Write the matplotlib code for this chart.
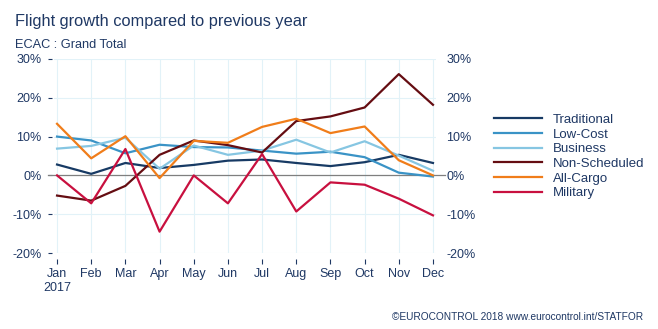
import numpy as np
import matplotlib.pyplot as plt

plt.rcParams['font.family'] = ['Liberation Sans', 'DejaVu Sans']

months = ['Jan', 'Feb', 'Mar', 'Apr', 'May', 'Jun', 'Jul', 'Aug', 'Sep', 'Oct', 'Nov', 'Dec']

traditional = [2.8, 0.4, 3.2, 1.9, 2.7, 3.8, 4.1, 3.2, 2.4, 3.4, 5.3, 3.2]
low_cost = [10.0, 9.0, 5.7, 7.9, 7.3, 7.2, 6.4, 5.6, 6.1, 4.7, 0.7, -0.3]
business = [6.9, 7.6, 9.7, 1.7, 7.7, 5.3, 6.4, 9.2, 5.9, 8.8, 5.1, 1.2]
non_scheduled = [-5.2, -6.5, -2.7, 5.3, 9.0, 7.8, 5.9, 14.0, 15.2, 17.5, 26.1, 18.2]
all_cargo = [13.3, 4.4, 10.1, -0.7, 8.9, 8.4, 12.5, 14.6, 10.9, 12.6, 3.9, 0.0]
military = [0.0, -7.2, 6.8, -14.5, 0.0, -7.2, 5.5, -9.3, -1.8, -2.4, -6.0, -10.3]

series = [
    ('Traditional', traditional, '#173a64'),
    ('Low-Cost', low_cost, '#3a93c6'),
    ('Business', business, '#86c6e2'),
    ('Non-Scheduled', non_scheduled, '#650d12'),
    ('All-Cargo', all_cargo, '#f07d1a'),
    ('Military', military, '#c8103f'),
]

navy = '#1f3864'

fig = plt.figure(figsize=(6.58, 3.29), dpi=100)
ax = fig.add_axes([0.0815, 0.231, 0.5817, 0.5897])

x = np.arange(len(months))
for name, vals, col in series:
    ax.plot(x, vals, color=col, lw=1.6, label=name, clip_on=False, zorder=3)

# zero line runs a little past the plot on both sides
ax.axhline(0, xmin=-0.015, xmax=1.022, color='#7f7f7f', lw=0.9, zorder=2, clip_on=False)

ax.set_xlim(-0.1, 11.1)
ax.set_ylim(-20, 30)
ax.set_yticks([-20, -10, 0, 10, 20, 30])
ax.set_yticklabels(['-20%', '-10%', '0%', '10%', '20%', '30%'])
ax.set_xticks(x)
ax.set_xticklabels(['Jan\n2017'] + months[1:], linespacing=1.05)
for lab in ax.get_xticklabels():
    lab.set_verticalalignment('top')

ax.grid(True, color='#e2f2f8', lw=0.8, zorder=0)
for s in ax.spines.values():
    s.set_visible(False)
ax.spines['left'].set_position(('outward', 1.5))
ax.spines['bottom'].set_position(('outward', 4.5))

ax.tick_params(axis='both', colors=navy, labelsize=9, width=0.8)
ax.tick_params(axis='y', length=3, pad=4.3, labelright=True, right=True)
ax.tick_params(axis='x', length=3.6, pad=3)
# right side: labels only, no tick marks
for t in ax.yaxis.get_major_ticks():
    t.tick2line.set_visible(False)

leg = fig.legend(loc='upper left', bbox_to_anchor=(0.733, 0.69), frameon=False,
                 fontsize=9.5, handlelength=3.6, handletextpad=0.85, labelspacing=0.18)
for t in leg.get_texts():
    t.set_color(navy)

fig.text(0.023, 0.935, 'Flight growth compared to previous year', fontsize=11.8, color=navy, va='center')
fig.text(0.023, 0.862, 'ECAC : Grand Total', fontsize=9.2, color=navy, va='center')
fig.text(0.977, 0.035, '\u00a9EUROCONTROL 2018 www.eurocontrol.int/STATFOR', fontsize=7.3, color=navy,
         ha='right', va='center')

fig.savefig('out.png', dpi=100)
